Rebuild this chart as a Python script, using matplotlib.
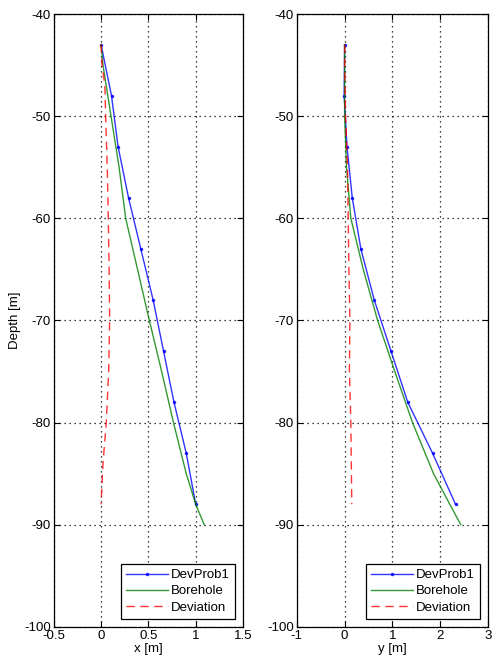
import matplotlib
matplotlib.use("Agg")
import matplotlib.pyplot as plt
import numpy as np

plt.rcParams['font.family'] = ['Liberation Sans', 'DejaVu Sans']
plt.rcParams['axes.unicode_minus'] = False

# DevProb1 (probe readings, markers)
prob_depth = [-43, -48, -53, -58, -63, -68, -73, -78, -83, -88]
prob_x = [0.0, 0.11, 0.18, 0.29, 0.42, 0.55, 0.66, 0.77, 0.90, 1.0]
prob_y = [0.0, -0.01, 0.05, 0.16, 0.34, 0.62, 0.97, 1.32, 1.84, 2.32]

# Borehole trajectory
bore_depth = [-43, -45, -50, -55, -60, -65, -70, -75, -80, -85, -88, -90]
bore_x = [0.0, 0.02, 0.105, 0.19, 0.26, 0.385, 0.51, 0.64, 0.765, 0.90, 1.0, 1.09]
bore_y = [0.0, 0.0, 0.0, 0.04, 0.13, 0.39, 0.69, 1.05, 1.42, 1.86, 2.2, 2.43]

# Deviation
dev_depth = [-43, -45, -47, -50, -55, -60, -65, -70, -75, -80, -84, -88]
dev_x = [0.0, 0.01, 0.04, 0.048, 0.065, 0.076, 0.085, 0.09, 0.08, 0.055, 0.02, 0.0]
dev_y = [0.0, 0.0, 0.01, 0.02, 0.06, 0.075, 0.09, 0.11, 0.10, 0.13, 0.14, 0.15]

fig = plt.figure(figsize=(4.98, 6.69), dpi=100)
ax1 = fig.add_axes([0.108, 0.063, 0.380, 0.916])
ax2 = fig.add_axes([0.596, 0.063, 0.384, 0.916])


def panel(ax, px, bx, dx, xlim, xticks, xlabel):
    ax.plot(px, prob_depth, color='#0000ff', marker='.', markersize=3, lw=1, alpha=0.8, label='DevProb1')
    ax.plot(bx, bore_depth, color='#008000', lw=1, alpha=0.8, label='Borehole')
    ax.plot(dx, dev_depth, color='#ff0000', lw=1, ls=(0, (6, 4)), alpha=0.8, label='Deviation')
    ax.set_xlim(xlim)
    ax.set_ylim(-100, -40)
    ax.set_xticks(xticks)
    ax.set_yticks(np.arange(-100, -39, 10))
    ax.grid(True, color='black', ls=(0, (1, 3)), lw=0.9)
    ax.tick_params(direction='in', top=True, right=True, labelsize=9.5, pad=2, length=4)
    for s in ax.spines.values():
        s.set_linewidth(0.9)
    ax.set_xlabel(xlabel, fontsize=9.5, labelpad=1)
    leg = ax.legend(loc='lower right', fontsize=9.5, fancybox=False, framealpha=1,
                    edgecolor='black', borderpad=0.4, handlelength=3.2, labelspacing=0.3,
                    handletextpad=0.2, borderaxespad=0.6)
    leg.get_frame().set_linewidth(0.9)


panel(ax1, prob_x, bore_x, dev_x, (-0.5, 1.5), [-0.5, 0, 0.5, 1, 1.5], 'x [m]')
panel(ax2, prob_y, bore_y, dev_y, (-1, 3), [-1, 0, 1, 2, 3], 'y [m]')
ax1.set_xticklabels(['-0.5', '0', '0.5', '1', '1.5'])
ax1.set_ylabel('Depth [m]', fontsize=9.5, labelpad=2)

fig.savefig('out.png', dpi=100)
